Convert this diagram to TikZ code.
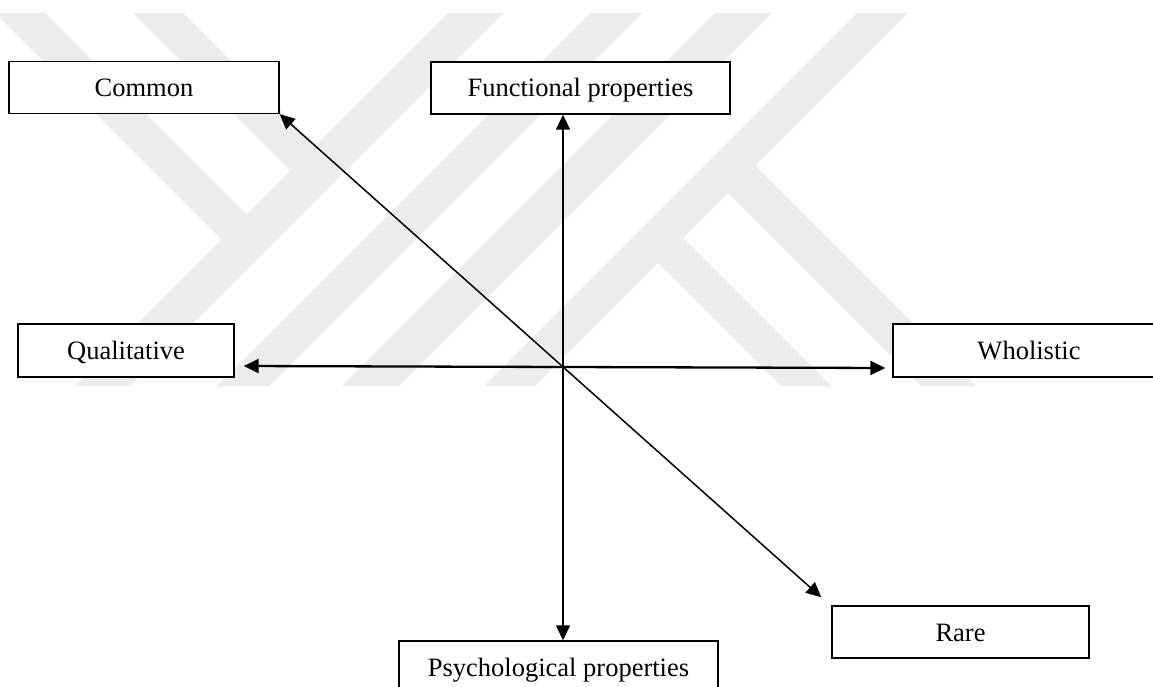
\documentclass[tikz,border=0pt]{standalone}
\usepackage{fontspec}
\setmainfont{Liberation Serif}
\usetikzlibrary{arrows.meta}
\tikzset{
  lbl/.style={draw=black, line width=1.4pt, fill=white, inner sep=0pt,
    font=\fontsize{26.5}{30}\selectfont, text height=18pt, text depth=0pt,
    minimum height=52pt},
  link/.style={line width=1.5pt,
    {Triangle[length=15pt,width=14pt]}-{Triangle[length=15pt,width=14pt]}},
  wm/.style={fill=black!7.5}
}
\begin{document}
\begin{tikzpicture}[x=1pt,y=-1pt]
\useasboundingbox (0,0) rectangle (1153,687);
\clip (0,0) rectangle (1153,687);
\fill[white] (0,0) rectangle (1153,687);

% faint background emblem
\fill[wm] (-5,13) -- (45,13) -- (266.5,234.5) -- (241.5,259.5) -- cycle;
\fill[wm] (133,13) -- (183,13) -- (343,173) -- (290.5,170.5) -- cycle;
\fill[wm] (448,13) -- (503,13) -- (130,386) -- (75,386) -- cycle;
\fill[wm] (590,13) -- (642,13) -- (269,386) -- (217,386) -- cycle;
\fill[wm] (715,13) -- (772,13) -- (399,386) -- (342,386) -- cycle;
\fill[wm] (857,13) -- (908,13) -- (535,386) -- (484,386) -- cycle;
\fill[wm] (673,228) -- (831,386) -- (781,386) -- (648,253) -- cycle;
\fill[wm] (745.5,155.5) -- (976,386) -- (921,386) -- (718,183) -- cycle;

% labelled boxes
\node[lbl, minimum width=270pt] (com) at (144,87.5) {Common};
\node[lbl, minimum width=299pt] (fun) at (580.5,88) {Functional properties};
\node[lbl, minimum width=216pt, minimum height=53pt] (qual) at (126,350.5) {Qualitative};
\node[lbl, minimum width=272pt, minimum height=53pt] (who) at (1029,350.5) {Wholistic};
\node[lbl, minimum width=319pt] (psy) at (558.5,667) {Psychological properties};
\node[lbl, minimum width=257pt] (rare) at (960.5,632) {Rare};

% crossing axes
\coordinate (ctr) at (563,367);
\draw[link] (fun.south -| ctr) -- (psy.north -| ctr);
\draw[link, line width=2.3pt] ([xshift=9pt,yshift=-15.5pt]qual.east) -- ([xshift=-7pt,yshift=-17.5pt]who.west);
\draw[link] (com.south east) -- ([xshift=-10pt,yshift=8pt]rare.north west);
\end{tikzpicture}
\end{document}
